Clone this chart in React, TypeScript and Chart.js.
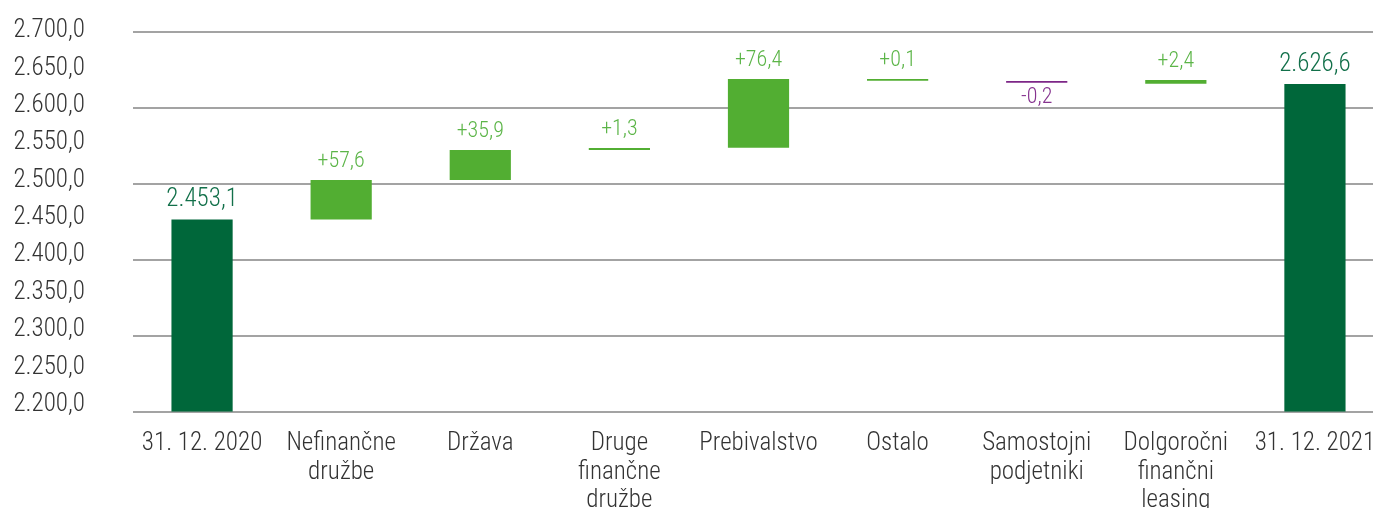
import React, { useEffect, useRef } from "react";
import { Chart, registerables } from "chart.js";

Chart.register(...registerables);

// ---- data ----
const CATEGORIES: string[][] = [
  ["31. 12. 2020"],
  ["Nefinančne", "družbe"],
  ["Država"],
  ["Druge", "finančne", "družbe"],
  ["Prebivalstvo"],
  ["Ostalo"],
  ["Samostojni", "podjetniki"],
  ["Dolgoročni", "finančni", "leasing"],
  ["31. 12. 2021"],
];
// bar bottoms / tops as drawn in the picture
const BAR_START = [2200, 2453.1, 2505.1, 2544.6, 2547.6, 2635.9, 2633.2, 2631.9, 2200];
const BAR_END = [2453.1, 2505.1, 2544.6, 2547.2, 2638.1, 2638.1, 2635.5, 2636.8, 2631.4];
// printed values
const TOTALS = [2453.1, 2626.6];
const CHANGES = [57.6, 35.9, 1.3, 76.4, 0.1, -0.2, 2.4];
const Y_TICKS = [2200, 2250, 2300, 2350, 2400, 2450, 2500, 2550, 2600, 2650, 2700];

// ---- styles ----
const FONT = "'Roboto Condensed', 'Liberation Sans', sans-serif";
const DARK = "#00673a";
const LIGHT = "#52ae32";
const PURPLE = "#7d2687";

function fmt(v: number, sign = false): string {
  const s = Math.abs(v).toFixed(1);
  const [int, dec] = s.split(".");
  const intDots = int.replace(/\B(?=(\d{3})+(?!\d))/g, ".");
  const pre = v < 0 ? "-" : sign ? "+" : "";
  return pre + intDots + "," + dec;
}

const n = CATEGORIES.length;
const labelTexts: string[] = [];
const kinds: ("total" | "up" | "down")[] = [];
for (let i = 0; i < n; i++) {
  if (i === 0) { labelTexts.push(fmt(TOTALS[0])); kinds.push("total"); }
  else if (i === n - 1) { labelTexts.push(fmt(TOTALS[1])); kinds.push("total"); }
  else {
    const c = CHANGES[i - 1];
    labelTexts.push(fmt(c, true));
    kinds.push(c < 0 ? "down" : "up");
  }
}
const barColors = kinds.map((k) => (k === "total" ? DARK : k === "up" ? LIGHT : PURPLE));
const textColors = kinds.map((k) => (k === "total" ? "#12704a" : k === "up" ? "#5cb548" : "#86338f"));

const valueLabels = {
  id: "valueLabels",
  afterDatasetsDraw(chart: any) {
    const ctx = chart.ctx;
    const meta = chart.getDatasetMeta(0);
    ctx.save();
    meta.data.forEach((el: any, i: number) => {
      const { x, y, base } = el.getProps(["x", "y", "base"], true);
      const top = Math.min(y, base);
      const bottom = Math.max(y, base);
      const size = kinds[i] === "total" ? 25 : 22;
      ctx.font = `300 ${size}px ${FONT}`;
      ctx.fillStyle = textColors[i];
      ctx.textAlign = "center";
      ctx.textBaseline = "alphabetic";
      if (kinds[i] === "down") {
        ctx.fillText(labelTexts[i], x, bottom + 20);
      } else {
        ctx.fillText(labelTexts[i], x, top - 13);
      }
    });
    ctx.restore();
  },
};

export default function App() {
  const ref = useRef<HTMLCanvasElement>(null);
  useEffect(() => {
    if (!ref.current) return;
    const chart = new Chart(ref.current, {
      type: "bar",
      data: {
        labels: CATEGORIES,
        datasets: [
          {
            data: BAR_START.map((s, i) => [s, BAR_END[i]]) as any,
            backgroundColor: barColors,
            borderWidth: 0,
            barPercentage: 0.44,
            categoryPercentage: 1,
          },
        ],
      },
      options: {
        animation: false,
        responsive: false,
        devicePixelRatio: 1,
        layout: { padding: { left: 0, top: 32, right: 5.5, bottom: 0 } },
        plugins: { legend: { display: false }, tooltip: { enabled: false }, title: { display: false } },
        scales: {
          x: {
            type: "category",
            grid: { display: false, drawTicks: false },
            border: { display: false },
            ticks: {
              font: { family: FONT, size: 25, weight: "300", lineHeight: 1.14 },
              color: "#333333",
              padding: 18,
              autoSkip: false,
              maxRotation: 0,
              minRotation: 0,
            },
            afterFit(s: any) {
              s.height = 96.3;
              s.paddingLeft = 0;
              s.paddingRight = 0;
            },
          },
          y: {
            type: "linear",
            position: "left",
            weight: 0,
            min: 2200,
            max: 2700,
            ticks: { display: false, stepSize: 100 },
            grid: { color: "#a3a3a3", lineWidth: 2, drawTicks: false },
            border: { display: false },
            afterFit(s: any) {
              s.width = 0;
              s.paddingTop = 0;
              s.paddingBottom = 0;
            },
          },
          yLabels: {
            type: "linear",
            position: "left",
            weight: 1,
            min: 2190.5,
            max: 2698.8,
            grid: { display: false, drawTicks: false },
            border: { display: false },
            ticks: {
              font: { family: FONT, size: 25, weight: "300" },
              color: "#333333",
              padding: 47.5,
              autoSkip: false,
              callback: (v: any) => fmt(Number(v)),
            },
            afterBuildTicks(s: any) {
              s.ticks = Y_TICKS.map((v) => ({ value: v }));
            },
            afterFit(s: any) {
              s.width = 132.5;
              s.paddingTop = 0;
              s.paddingBottom = 0;
            },
          },
        } as any,
      },
      plugins: [valueLabels],
    });
    return () => chart.destroy();
  }, []);
  return (
    <div style={{ position: "fixed", left: 0, top: 0, width: 1373, height: 508, overflow: "hidden", background: "#fff" }}>
      <canvas ref={ref} width={1390} height={508} style={{ display: "block" }} />
    </div>
  );
}
